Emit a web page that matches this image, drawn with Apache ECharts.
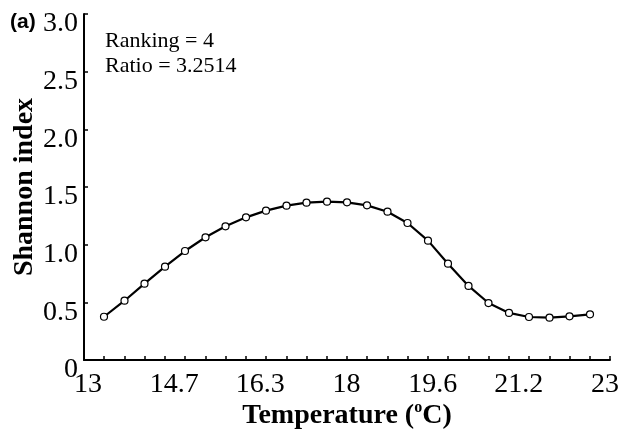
<!DOCTYPE html>
<html>
<head>
<meta charset="utf-8">
<script src="https://cdn.jsdelivr.net/npm/echarts@6/dist/echarts.min.js"></script>
<style>html,body{margin:0;padding:0;background:#fff;}#c{width:622px;height:434px;}</style>
</head>
<body>
<div id="c"></div>
<script>
var temperatures = [13.38, 13.77, 14.15, 14.54, 14.92, 15.31, 15.69, 16.08, 16.46, 16.85, 17.23, 17.62, 18.00, 18.38, 18.77, 19.15, 19.54, 19.92, 20.31, 20.69, 21.08, 21.46, 21.85, 22.23, 22.62];
var shannon = [0.375, 0.514, 0.662, 0.809, 0.945, 1.064, 1.159, 1.237, 1.295, 1.338, 1.364, 1.373, 1.367, 1.341, 1.286, 1.188, 1.035, 0.835, 0.642, 0.494, 0.408, 0.373, 0.367, 0.379, 0.396];
var xTickLabels = ['13', '14.7', '16.3', '18', '19.6', '21.2', '23'];
var yTickLabels = ['0', '0.5', '1.0', '1.5', '2.0', '2.5', '3.0'];
var annotations = ['Ranking = 4', 'Ratio = 3.2514'];

var serif = '"Liberation Serif", "Times New Roman", serif';
var chart = echarts.init(document.getElementById('c'));
var seriesData = temperatures.map(function (t, i) { return [t, shannon[i]]; });

chart.setOption({
  animation: false,
  backgroundColor: '#fff',
  grid: [
    { left: 84, right: 12, top: 14, bottom: 74, containLabel: false, outerBoundsMode: 'none' },
    { left: 88, right: 17, top: 14, bottom: 74, containLabel: false, outerBoundsMode: 'none' }
  ],
  xAxis: [
    {
      type: 'value', gridIndex: 0, min: 13, max: 23, position: 'bottom',
      axisLine: { show: true, lineStyle: { color: '#000', width: 2 } },
      axisTick: { show: false }, axisLabel: { show: false }, splitLine: { show: false },
      name: '{b|Temperature (}{s|o}{b|C)}',
      nameLocation: 'middle', nameGap: 40,
      nameTextStyle: {
        rich: {
          b: { fontFamily: serif, fontWeight: 'bold', fontSize: 28, color: '#000', lineHeight: 32 },
          s: { fontFamily: serif, fontWeight: 'bold', fontSize: 16, color: '#000', lineHeight: 32, verticalAlign: 'top', padding: [0, 0, 12, 0] }
        }
      }
    },
    {
      type: 'value', gridIndex: 0, min: 0, max: 26, interval: 1, position: 'bottom',
      axisLine: { show: false },
      axisTick: { show: true, inside: true, length: 4, lineStyle: { color: '#000', width: 1.5 } },
      axisLabel: { show: false }, splitLine: { show: false }
    },
    {
      type: 'value', gridIndex: 1, min: 0, max: 6, interval: 1, position: 'bottom',
      axisLine: { show: false }, axisTick: { show: false }, splitLine: { show: false },
      axisLabel: {
        show: true, margin: 11, color: '#000', fontFamily: serif, fontSize: 28,
        formatter: function (v) { return xTickLabels[Math.round(v)]; }
      }
    }
  ],
  yAxis: [
    {
      type: 'value', gridIndex: 0, min: 0, max: 3, interval: 0.5,
      axisLine: { show: true, lineStyle: { color: '#000', width: 2 } },
      axisTick: { show: true, inside: true, length: 4, lineStyle: { color: '#000', width: 1.5 } },
      splitLine: { show: false },
      axisLabel: {
        margin: 6, color: '#000', fontFamily: serif, fontSize: 28,
        verticalAlign: 'top', lineHeight: 20,
        formatter: function (v) { return yTickLabels[Math.round(v * 2)]; }
      },
      name: 'Shannon index', nameLocation: 'middle', nameGap: 45, nameMoveOverlap: false,
      nameTextStyle: { fontFamily: serif, fontWeight: 'bold', fontSize: 28, color: '#000' }
    },
    {
      type: 'value', gridIndex: 1, min: 0, max: 3, show: false
    }
  ],
  series: [{
    type: 'line', xAxisIndex: 0, yAxisIndex: 0, data: seriesData,
    symbol: 'circle', symbolSize: 7, showSymbol: true,
    lineStyle: { color: '#000', width: 2.2 },
    itemStyle: { color: '#fff', borderColor: '#000', borderWidth: 1.2 }
  }],
  graphic: [
    { type: 'text', left: 10, top: 12, style: { text: '(a)', font: 'bold 21px "Liberation Sans", Arial, sans-serif', fill: '#000' } },
    { type: 'text', left: 105, top: 30, style: { text: annotations[0], font: '22px ' + serif, fill: '#000' } },
    { type: 'text', left: 105, top: 55, style: { text: annotations[1], font: '22px ' + serif, fill: '#000' } }
  ]
});
</script>
</body>
</html>
